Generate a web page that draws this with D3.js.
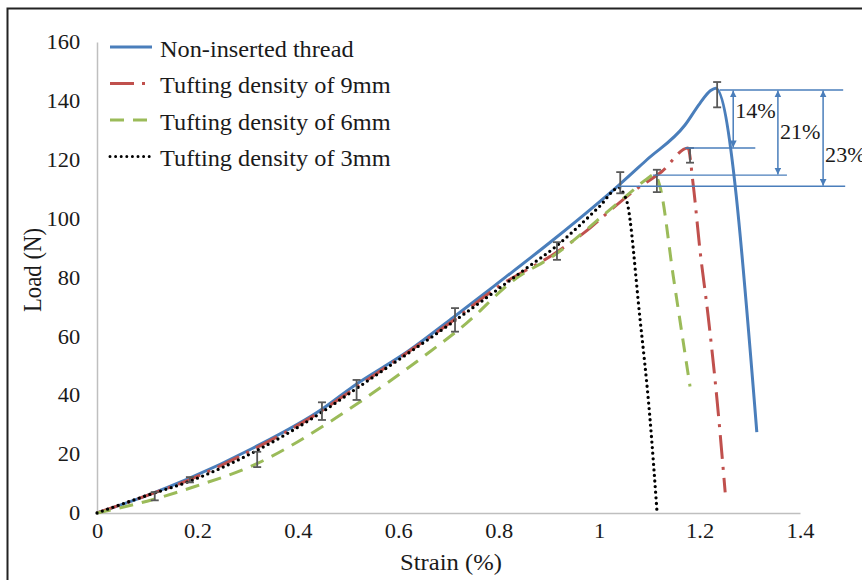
<!DOCTYPE html>
<html>
<head>
<meta charset="utf-8">
<script src="https://cdn.jsdelivr.net/npm/d3@7"></script>
<style>
body { margin: 0; background: #fff; }
svg { display: block; }
text { font-family: "Liberation Serif", "Times New Roman", serif; fill: #1a1a1a; }
</style>
</head>
<body>
<script>
// strain (%) / load (N) pairs
const nonInserted = [[0,0],[0.1,6],[0.18,11.5],[0.31,22],[0.45,35.5],[0.51,43],[0.62,55],[0.71,66.5],[0.79,77],[0.91,93],[1.04,111.5],[1.095,120],[1.171,131.8],[1.2,139],[1.222,143.5],[1.232,144.3],[1.314,27.5]];
const density9 = [[0,0],[0.1,6],[0.18,11],[0.31,21.5],[0.45,35],[0.51,42],[0.71,65.5],[0.8,77],[0.91,88],[0.976,96],[1.02,102.5],[1.07,109.5],[1.125,116],[1.177,124],[1.187,112],[1.201,89],[1.217,67],[1.235,38],[1.251,7]];
const density6 = [[0,0],[0.11,4.5],[0.195,9],[0.315,16.5],[0.464,31],[0.53,38.5],[0.649,53],[0.736,64.5],[0.829,79],[0.91,87.5],[1.028,104],[1.07,110],[1.095,113.5],[1.111,115],[1.121,111],[1.148,80],[1.181,43]];
const density3 = [[0,0],[0.1,6],[0.18,10.5],[0.31,20.5],[0.45,34.5],[0.51,41.5],[0.71,65],[0.862,84],[0.91,90],[0.96,97.5],[1.0,104],[1.04,110.5],[1.05,108],[1.055,106],[1.081,66.6],[1.101,32.6],[1.115,1]];

const seriesNames = ["Non-inserted thread", "Tufting density of 9mm", "Tufting density of 6mm", "Tufting density of 3mm"];

// error bars: strain, mean load, half range
const errStrain = [0.115,0.185,0.319,0.448,0.517,0.713,0.916,1.042,1.115,1.181,1.235];
const errMid = [5.7,11.3,18.2,34.6,41.8,65.6,89,112.2,112.8,121.5,142.1];
const errHalf = [1.4,0.9,2.6,3,3.4,4,3,3.6,3.8,2.5,4.3];

// peak comparison annotation
const peakLevels = [143.7, 124, 114.8, 111];
const levelFrom = [1.24, 1.171, 1.107, 1.036];
const levelTo = [1.486, 1.311, 1.374, 1.49];
const arrowStrain = [1.267, 1.356, 1.446];
const arrowLabels = ["14%", "21%", "23%"];
const labelLoad = [136.5, 129.4, 121.6];

const xTicks = [0, 0.2, 0.4, 0.6, 0.8, 1, 1.2, 1.4];
const xTickLabels = ["0", "0.2", "0.4", "0.6", "0.8", "1", "1.2", "1.4"];
const yTicks = [0, 20, 40, 60, 80, 100, 120, 140, 160];

const w = 862;
const h = 580;
const stretch = 1.08;

const x = d3.scaleLinear().domain([0, 1.4]).range([97, 800]);
const y = d3.scaleLinear().domain([0, 160]).range([513, 42]);

const svg = d3.select("body").append("svg")
  .attr("width", w)
  .attr("height", h);

// frame
svg.append("rect")
  .attr("x", 7.5).attr("y", 8.5)
  .attr("width", w).attr("height", h)
  .attr("fill", "none")
  .attr("stroke", "#222")
  .attr("stroke-width", 2);

// axes
const xAxis = svg.append("g")
  .attr("transform", `translate(0,${y(0)})`)
  .call(d3.axisBottom(x).tickValues(xTicks).tickSize(0).tickPadding(10)
    .tickFormat((d, i) => xTickLabels[i]));

const yAxis = svg.append("g")
  .attr("transform", `translate(${x(0)},0)`)
  .call(d3.axisLeft(y).tickValues(yTicks).tickSize(0).tickPadding(15.5));

[xAxis, yAxis].forEach(g => {
  g.attr("font-family", null);
  g.select(".domain").attr("stroke", "#bfbfbf").attr("stroke-width", 1.5);
  g.selectAll("text")
    .attr("font-size", 20.8)
    .attr("fill", "#1a1a1a")
    .attr("transform", `scale(${stretch},1)`);
});

svg.append("text")
  .attr("transform", `translate(451,570) scale(${stretch},1)`)
  .attr("text-anchor", "middle")
  .attr("font-size", 22.8)
  .text("Strain (%)");

svg.append("text")
  .attr("transform", `translate(40.5,270) scale(${stretch},1) rotate(-90)`)
  .attr("text-anchor", "middle")
  .attr("font-size", 22.8)
  .text("Load (N)");

// curves
const styles = [
  {color: "#4a7ebb", dash: null, cap: "butt"},
  {color: "#c0504d", dash: "24,8,3,8", cap: "butt"},
  {color: "#9bbb59", dash: "14,9", cap: "butt"},
  {color: "#000000", dash: "0,5.6", cap: "round"}
];
const allSeries = [nonInserted, density9, density6, density3];

const line = d3.line()
  .x(d => x(d[0]))
  .y(d => y(d[1]))
  .curve(d3.curveMonotoneX);

svg.append("g").selectAll("path")
  .data(allSeries)
  .enter().append("path")
  .attr("d", line)
  .attr("fill", "none")
  .attr("stroke", (d, i) => styles[i].color)
  .attr("stroke-width", (d, i) => i === 3 ? 3.3 : 3)
  .attr("stroke-dasharray", (d, i) => styles[i].dash)
  .attr("stroke-linecap", (d, i) => styles[i].cap)
  .attr("stroke-linejoin", "round");

// error bars
const err = svg.append("g")
  .attr("stroke", "#595959")
  .attr("stroke-width", 1.8);

errStrain.forEach((s, i) => {
  const cx = x(s);
  const top = y(errMid[i] + errHalf[i]);
  const bot = y(errMid[i] - errHalf[i]);
  err.append("line").attr("x1", cx).attr("x2", cx).attr("y1", top).attr("y2", bot);
  err.append("line").attr("x1", cx - 4).attr("x2", cx + 4).attr("y1", top).attr("y2", top);
  err.append("line").attr("x1", cx - 4).attr("x2", cx + 4).attr("y1", bot).attr("y2", bot);
});

// annotation
const annColor = "#4a7ebb";
const defs = svg.append("defs");
defs.append("marker")
  .attr("id", "arrowhead")
  .attr("viewBox", "0 0 10 10")
  .attr("refX", 10).attr("refY", 5)
  .attr("markerWidth", 7).attr("markerHeight", 7)
  .attr("markerUnits", "userSpaceOnUse")
  .attr("orient", "auto-start-reverse")
  .append("path")
  .attr("d", "M0,0 L10,5 L0,10 Z")
  .attr("fill", annColor);

const ann = svg.append("g");

ann.selectAll("line.level")
  .data(peakLevels)
  .enter().append("line")
  .attr("class", "level")
  .attr("x1", (d, i) => x(levelFrom[i]))
  .attr("x2", (d, i) => x(levelTo[i]))
  .attr("y1", d => y(d))
  .attr("y2", d => y(d))
  .attr("stroke", annColor)
  .attr("stroke-width", 1.3);

ann.selectAll("line.arrow")
  .data(arrowStrain)
  .enter().append("line")
  .attr("class", "arrow")
  .attr("x1", d => x(d))
  .attr("x2", d => x(d))
  .attr("y1", y(peakLevels[0]) + 0.5)
  .attr("y2", (d, i) => y(peakLevels[i + 1]) - 0.5)
  .attr("stroke", annColor)
  .attr("stroke-width", 1.5)
  .attr("marker-start", "url(#arrowhead)")
  .attr("marker-end", "url(#arrowhead)");

ann.selectAll("text")
  .data(arrowLabels)
  .enter().append("text")
  .attr("transform", (d, i) => `translate(${x(arrowStrain[i]) + 2},${y(labelLoad[i]) + 7}) scale(${stretch},1)`)
  .attr("font-size", 20.5)
  .text(d => d);

// legend
const legend = svg.append("g").attr("transform", "translate(110,47)");
const rowGap = 36.5;

legend.selectAll("line")
  .data(seriesNames)
  .enter().append("line")
  .attr("x1", 0).attr("x2", 42)
  .attr("y1", (d, i) => i * rowGap)
  .attr("y2", (d, i) => i * rowGap)
  .attr("stroke", (d, i) => styles[i].color)
  .attr("stroke-width", 3)
  .attr("stroke-dasharray", (d, i) => styles[i].dash)
  .attr("stroke-linecap", (d, i) => styles[i].cap);

legend.selectAll("text")
  .data(seriesNames)
  .enter().append("text")
  .attr("transform", (d, i) => `translate(50,${i * rowGap + 9.5}) scale(${stretch},1)`)
  .attr("font-size", 22.5)
  .text(d => d);
</script>
</body>
</html>
